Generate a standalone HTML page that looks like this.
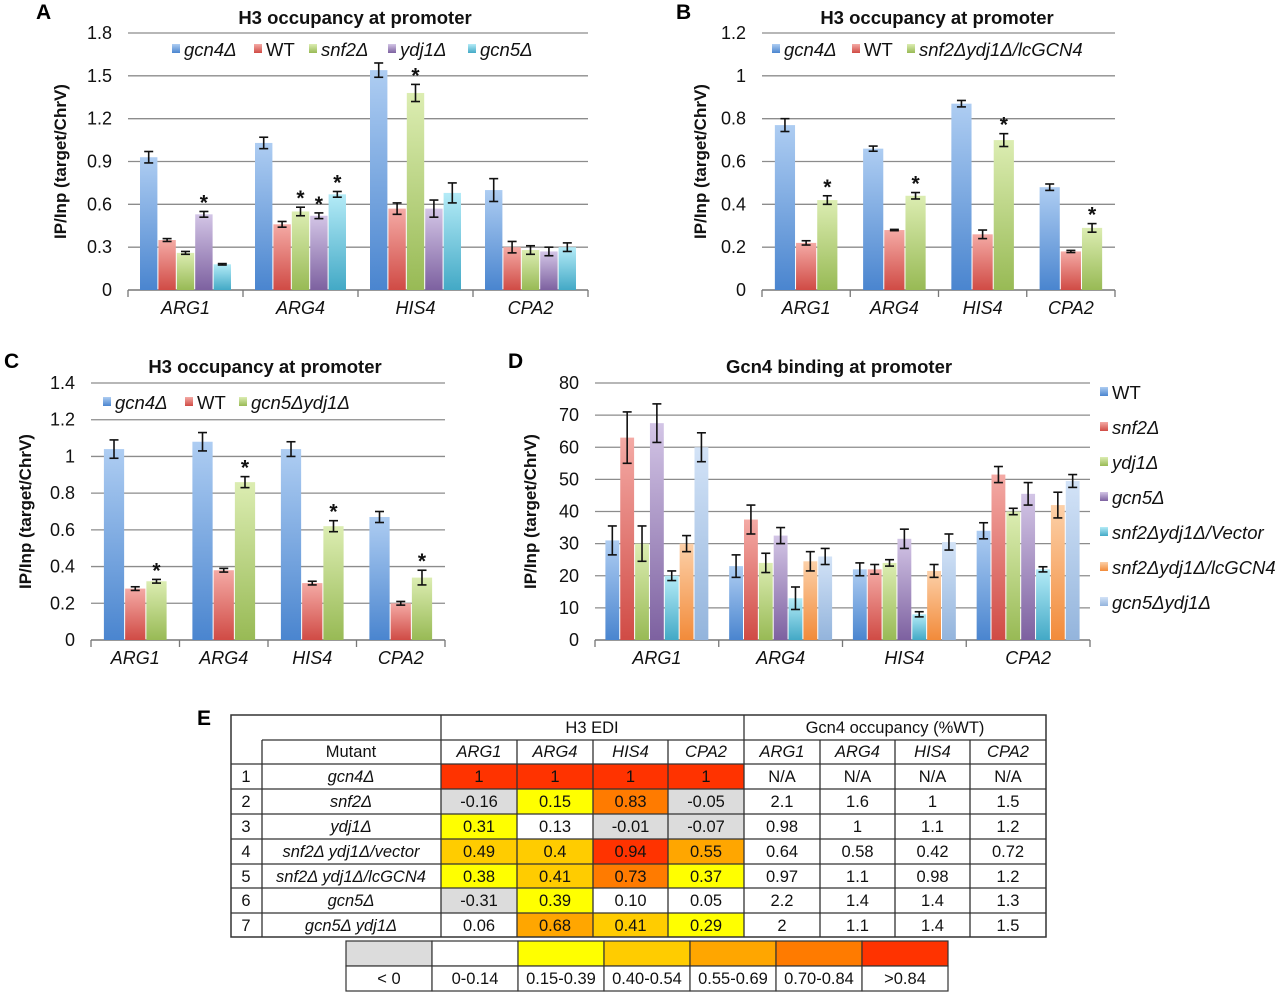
<!DOCTYPE html>
<html><head><meta charset="utf-8"><style>
body{margin:0;background:#fff;}
svg{display:block;font-family:"Liberation Sans",Arial,sans-serif;}
</style></head><body>
<svg id="fig" width="1280" height="992" viewBox="0 0 1280 992" xmlns="http://www.w3.org/2000/svg">
<defs>
<linearGradient id="g-blue" x1="0" y1="0" x2="0" y2="1"><stop offset="0" stop-color="#aecdf2"/><stop offset="1" stop-color="#4a85cf"/></linearGradient>
<linearGradient id="g-red" x1="0" y1="0" x2="0" y2="1"><stop offset="0" stop-color="#f4aaa5"/><stop offset="1" stop-color="#d04b45"/></linearGradient>
<linearGradient id="g-green" x1="0" y1="0" x2="0" y2="1"><stop offset="0" stop-color="#dcedb2"/><stop offset="1" stop-color="#98ba55"/></linearGradient>
<linearGradient id="g-purple" x1="0" y1="0" x2="0" y2="1"><stop offset="0" stop-color="#d3c5e6"/><stop offset="1" stop-color="#7d61a0"/></linearGradient>
<linearGradient id="g-cyan" x1="0" y1="0" x2="0" y2="1"><stop offset="0" stop-color="#b4ebf7"/><stop offset="1" stop-color="#43a9c6"/></linearGradient>
<linearGradient id="g-orange" x1="0" y1="0" x2="0" y2="1"><stop offset="0" stop-color="#fcd0a8"/><stop offset="1" stop-color="#f28b3a"/></linearGradient>
<linearGradient id="g-lblue" x1="0" y1="0" x2="0" y2="1"><stop offset="0" stop-color="#d3e3f7"/><stop offset="1" stop-color="#93b4dc"/></linearGradient>
</defs>
<g id="panels"></g>
</svg>
<script>
// ---------- Panel A data ----------
const aCategories = ["ARG1","ARG4","HIS4","CPA2"];
const aSeriesNames = ["gcn4Δ","WT","snf2Δ","ydj1Δ","gcn5Δ"];
const aGcn4 = [0.93,1.03,1.54,0.70];
const aWT = [0.35,0.46,0.57,0.30];
const aSnf2 = [0.26,0.55,1.38,0.28];
const aYdj1 = [0.53,0.52,0.57,0.27];
const aGcn5 = [0.18,0.67,0.68,0.30];
const aErrGcn4 = [0.04,0.04,0.05,0.08];
const aErrWT = [0.01,0.02,0.04,0.04];
const aErrSnf2 = [0.01,0.03,0.06,0.03];
const aErrYdj1 = [0.02,0.02,0.06,0.03];
const aErrGcn5 = [0.005,0.02,0.07,0.03];
const aStars = [[0,3],[1,2],[1,3],[1,4],[2,2]];
const aTicks = ["0","0.3","0.6","0.9","1.2","1.5","1.8"];
// ---------- Panel B data ----------
const bCategories = ["ARG1","ARG4","HIS4","CPA2"];
const bSeriesNames = ["gcn4Δ","WT","snf2Δydj1Δ/lcGCN4"];
const bGcn4 = [0.77,0.66,0.87,0.48];
const bWT = [0.22,0.28,0.26,0.18];
const bSnfYdjLc = [0.42,0.44,0.70,0.29];
const bErrGcn4 = [0.03,0.012,0.015,0.015];
const bErrWT = [0.01,0.003,0.02,0.005];
const bErrSnfYdjLc = [0.02,0.015,0.03,0.02];
const bStars = [[0,2],[1,2],[2,2],[3,2]];
const bTicks = ["0","0.2","0.4","0.6","0.8","1","1.2"];
// ---------- Panel C data ----------
const cCategories = ["ARG1","ARG4","HIS4","CPA2"];
const cSeriesNames = ["gcn4Δ","WT","gcn5Δydj1Δ"];
const cGcn4 = [1.04,1.08,1.04,0.67];
const cWT = [0.28,0.38,0.31,0.20];
const cGcn5Ydj1 = [0.32,0.86,0.62,0.34];
const cErrGcn4 = [0.05,0.05,0.04,0.03];
const cErrWT = [0.01,0.01,0.01,0.01];
const cErrGcn5Ydj1 = [0.01,0.03,0.03,0.04];
const cStars = [[0,2],[1,2],[2,2],[3,2]];
const cTicks = ["0","0.2","0.4","0.6","0.8","1","1.2","1.4"];
// ---------- Panel D data ----------
const dCategories = ["ARG1","ARG4","HIS4","CPA2"];
const dSeriesNames = ["WT","snf2Δ","ydj1Δ","gcn5Δ","snf2Δydj1Δ/Vector","snf2Δydj1Δ/lcGCN4","gcn5Δydj1Δ"];
const dWT = [31,23,22,34];
const dSnf2 = [63,37.5,22,51.5];
const dYdj1 = [30,24,24,40];
const dGcn5 = [67.5,32.5,31.5,45.5];
const dVector = [20,13,8,22];
const dLc = [30,24.5,21.5,42];
const dGcn5Ydj1 = [60,26,30.5,49.5];
const dErrWT = [4.5,3.5,2,2.5];
const dErrSnf2 = [8,4.5,1.5,2.5];
const dErrYdj1 = [5.5,3,1,1];
const dErrGcn5 = [6,2.5,3,3.5];
const dErrVector = [1.5,3.5,0.8,0.8];
const dErrLc = [2.5,3,2,4];
const dErrGcn5Ydj1 = [4.5,2.5,2.5,2];
const dTicks = ["0","10","20","30","40","50","60","70","80"];

const NS="http://www.w3.org/2000/svg";
const root=document.getElementById('panels');
function mk(tag,attrs,parent,text){const e=document.createElementNS(NS,tag);for(const k in attrs)e.setAttribute(k,attrs[k]);if(text!==undefined)e.textContent=text;(parent||root).appendChild(e);return e;}

function chart(cfg){
  const g=mk('g',{});
  
  
  const ticks=cfg.ticks.map(Number);
  const ymax=ticks[ticks.length-1];
  const y=v=>cfg.y0-(v/ymax)*(cfg.y0-cfg.y1);
  const groupW=(cfg.x1-cfg.x0)/cfg.cats.length;
  ticks.forEach((t,i)=>{
    const yy=y(t);
    if(i>0){const l=mk('line',{x1:cfg.x0,x2:cfg.x1,y1:yy,y2:yy,stroke:'#8c8c8c','stroke-width':1.3},g);
      
      }
    const tx=mk('text',{x:cfg.x0-16,y:yy+6,'text-anchor':'end','font-size':18,fill:'#111'},g,cfg.ticks[i]);
    
    
  });
  const ax=mk('line',{x1:cfg.x0,x2:cfg.x1,y1:cfg.y0,y2:cfg.y0,stroke:'#777','stroke-width':1.5},g);
  
  
  for(let i=0;i<=cfg.cats.length;i++){const xx=cfg.x0+i*groupW;mk('line',{x1:xx,x2:xx,y1:cfg.y0,y2:cfg.y0+7,stroke:'#777','stroke-width':1.3},g);}
  cfg.cats.forEach((c,i)=>{
    const t=mk('text',{x:cfg.x0+(i+0.5)*groupW,y:cfg.y0+24,'text-anchor':'middle','font-size':18,'font-style':'italic',fill:'#111'},g,c);
    
    
  });
  const n=cfg.series.length;
  const bw=groupW*cfg.fill/n;
  const pad=(groupW-bw*n)/2;
  cfg.series.forEach((vals,s)=>{
    vals.forEach((v,i)=>{
      const bx=cfg.x0+i*groupW+pad+s*bw;
      const r=mk('rect',{x:bx+0.5,y:y(v),width:bw-1,height:cfg.y0-y(v),fill:'url(#'+cfg.grads[s]+')'},g);
      
      
      const e=cfg.errs[s][i];const cx=bx+bw/2;
      const eg=mk('g',{stroke:'#111','stroke-width':1.6},g);
      
      
      mk('line',{x1:cx,x2:cx,y1:y(v+e),y2:y(v-e)},eg);
      mk('line',{x1:cx-4.5,x2:cx+4.5,y1:y(v+e),y2:y(v+e)},eg);
      mk('line',{x1:cx-4.5,x2:cx+4.5,y1:y(v-e),y2:y(v-e)},eg);
    });
  });
  (cfg.stars||[]).forEach(([i,s])=>{
    const v=cfg.series[s][i],e=cfg.errs[s][i];
    const bx=cfg.x0+i*groupW+pad+s*bw+bw/2;
    const st=mk('text',{x:bx,y:y(v+e)-2,'text-anchor':'middle','font-size':cfg.starSize||21,'font-weight':'bold',fill:'#111'},g,'*');
    
    
  });
  const ti=mk('text',{x:cfg.tx,y:cfg.ty,'text-anchor':'middle','font-size':18.5,'font-weight':'bold',fill:'#111'},g,cfg.title);
  
  
  const yt=mk('text',{x:0,y:0,'text-anchor':'middle','font-size':17,'font-weight':'bold',fill:'#111',transform:'translate('+cfg.ytx+','+(cfg.y0+cfg.y1)/2+') rotate(-90)'},g,'IP/Inp (target/ChrV)');
  
  
  const lt=mk('text',{x:cfg.lx,y:cfg.ly,'font-size':21,'font-weight':'bold',fill:'#000'},g,cfg.letter);
  
  
  cfg.legend.forEach((p,s)=>{
    const lg=mk('g',{},g);
    
    
    mk('rect',{x:p[0],y:p[1]-12,width:8,height:9,fill:'url(#'+cfg.grads[s]+')'},lg);
    mk('text',{x:p[0]+12,y:p[1],'font-size':18.5,'font-style':cfg.names[s]==='WT'?'normal':'italic',fill:'#111'},lg,cfg.names[s]);
  });
}

chart({name:'panel-a-chart',letter:'A',lx:36,ly:19,title:'H3 occupancy at promoter',tx:355,ty:24,ytx:66,
  x0:128,x1:588,y0:290,y1:33,ticks:aTicks,cats:aCategories,names:aSeriesNames,fill:0.8,
  series:[aGcn4,aWT,aSnf2,aYdj1,aGcn5],errs:[aErrGcn4,aErrWT,aErrSnf2,aErrYdj1,aErrGcn5],
  grads:['g-blue','g-red','g-green','g-purple','g-cyan'],stars:aStars,
  legend:[[172,56],[254,56],[309,56],[388,56],[468,56]]});
chart({name:'panel-b-chart',letter:'B',lx:676,ly:19,title:'H3 occupancy at promoter',tx:937,ty:24,ytx:706,
  x0:762,x1:1115,y0:290,y1:33,ticks:bTicks,cats:bCategories,names:bSeriesNames,fill:0.72,
  series:[bGcn4,bWT,bSnfYdjLc],errs:[bErrGcn4,bErrWT,bErrSnfYdjLc],
  grads:['g-blue','g-red','g-green'],stars:bStars,
  legend:[[772,56],[852,56],[907,56]]});
chart({name:'panel-c-chart',letter:'C',lx:4,ly:368,title:'H3 occupancy at promoter',tx:265,ty:373,ytx:31,
  x0:91,x1:445,y0:640,y1:383,ticks:cTicks,cats:cCategories,names:cSeriesNames,fill:0.72,
  series:[cGcn4,cWT,cGcn5Ydj1],errs:[cErrGcn4,cErrWT,cErrGcn5Ydj1],
  grads:['g-blue','g-red','g-green'],stars:cStars,
  legend:[[103,409],[185,409],[239,409]]});
chart({name:'panel-d-chart',letter:'D',lx:508,ly:368,title:'Gcn4 binding at promoter',tx:839,ty:373,ytx:536,
  x0:595,x1:1090,y0:640,y1:383,ticks:dTicks,cats:dCategories,names:dSeriesNames,fill:0.84,
  series:[dWT,dSnf2,dYdj1,dGcn5,dVector,dLc,dGcn5Ydj1],errs:[dErrWT,dErrSnf2,dErrYdj1,dErrGcn5,dErrVector,dErrLc,dErrGcn5Ydj1],
  grads:['g-blue','g-red','g-green','g-purple','g-cyan','g-orange','g-lblue'],
  legend:[[1100,399],[1100,434],[1100,469],[1100,504],[1100,539],[1100,574],[1100,609]]});

// ---------- Panel E table ----------
const eGenes=["ARG1","ARG4","HIS4","CPA2"];
const eMutants=["gcn4Δ","snf2Δ","ydj1Δ","snf2Δ ydj1Δ/vector","snf2Δ ydj1Δ/lcGCN4","gcn5Δ","gcn5Δ ydj1Δ"];
const eEDI=[["1","1","1","1"],["-0.16","0.15","0.83","-0.05"],["0.31","0.13","-0.01","-0.07"],["0.49","0.4","0.94","0.55"],["0.38","0.41","0.73","0.37"],["-0.31","0.39","0.10","0.05"],["0.06","0.68","0.41","0.29"]];
const eOcc=[["N/A","N/A","N/A","N/A"],["2.1","1.6","1","1.5"],["0.98","1","1.1","1.2"],["0.64","0.58","0.42","0.72"],["0.97","1.1","0.98","1.2"],["2.2","1.4","1.4","1.3"],["2","1.1","1.4","1.5"]];
const eBins=["< 0","0-0.14","0.15-0.39","0.40-0.54","0.55-0.69","0.70-0.84",">0.84"];
const eBinColors=["#dcdcdc","#ffffff","#ffff00","#ffcc00","#ffa600","#ff7b00","#ff3300"];
function binOf(v){v=parseFloat(v);if(v<0)return 0;if(v<0.145)return 1;if(v<0.395)return 2;if(v<0.545)return 3;if(v<0.695)return 4;if(v<0.845)return 5;return 6;}
(function(){
  const tg=mk('g',{});
  
  
  const lt=mk('text',{x:197,y:725,'font-size':21,'font-weight':'bold',fill:'#000'},tg,'E');
  
  
  const cols=[231,262,441,517,593,668,744,820,895,970,1046];
  const rows=[715,740,764,789,814,839,864,888,913,937];
  function txt(x,y,s,it){return mk('text',{x:x,y:y,'text-anchor':'middle','font-size':16.5,'font-style':it?'italic':'normal',fill:'#111'},tg,s);}
  eEDI.forEach((r,i)=>r.forEach((v,j)=>{
    const c=mk('rect',{x:cols[2+j],y:rows[2+i],width:cols[3+j]-cols[2+j],height:rows[3+i]-rows[2+i],fill:eBinColors[binOf(v)]},tg);
    
    
  }));
  const L={stroke:'#333','stroke-width':1.3};
  mk('rect',{x:231,y:715,width:815,height:222,fill:'none',stroke:'#333','stroke-width':1.5},tg);
  mk('line',Object.assign({x1:441,x2:1046,y1:740,y2:740},L),tg);
  mk('line',Object.assign({x1:262,x2:441,y1:740,y2:740},L),tg);
  for(let i=2;i<rows.length-1;i++)mk('line',Object.assign({x1:231,x2:1046,y1:rows[i],y2:rows[i]},L),tg);
  mk('line',Object.assign({x1:262,x2:262,y1:740,y2:937},L),tg);
  mk('line',Object.assign({x1:441,x2:441,y1:715,y2:937},L),tg);
  mk('line',Object.assign({x1:744,x2:744,y1:715,y2:937},L),tg);
  [517,593,668,820,895,970].forEach(x=>mk('line',Object.assign({x1:x,x2:x,y1:740,y2:937},L),tg));
  txt(592,733,'H3 EDI');txt(895,733,'Gcn4 occupancy (%WT)');
  txt(351,757,'Mutant');
  eGenes.forEach((g,j)=>{txt((cols[2+j]+cols[3+j])/2,757,g,true);txt((cols[6+j]+cols[7+j])/2,757,g,true);});
  eMutants.forEach((m,i)=>{
    const yy=rows[2+i]+18;
    txt(246,yy,String(i+1));txt(351,yy,m,true);
    eEDI[i].forEach((v,j)=>txt((cols[2+j]+cols[3+j])/2,yy,v));
    eOcc[i].forEach((v,j)=>txt((cols[6+j]+cols[7+j])/2,yy,v));
  });
  const kg=mk('g',{});
  
  
  eBins.forEach((b,i)=>{
    const x=346+i*86;
    mk('rect',{x:x,y:941,width:86,height:25,fill:eBinColors[i],stroke:'#333','stroke-width':1.2},kg);
    mk('rect',{x:x,y:966,width:86,height:25,fill:'#fff',stroke:'#333','stroke-width':1.2},kg);
    mk('text',{x:x+43,y:984,'text-anchor':'middle','font-size':16.5,fill:'#111'},kg,b);
  });
})();
</script>
</body></html>
